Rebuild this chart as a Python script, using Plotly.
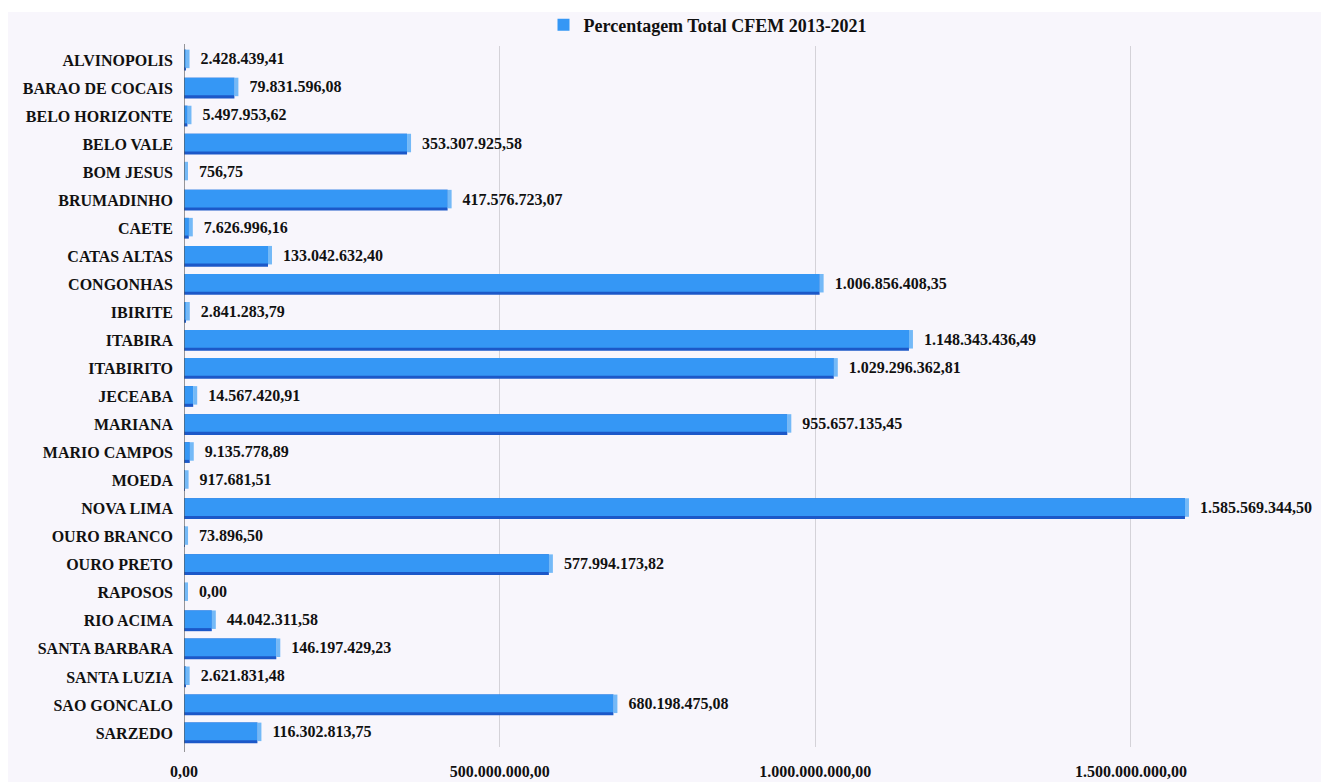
import plotly.graph_objects as go

# CFEM totals per municipality, 2013-2021 (R$)
municipios = [
    "ALVINOPOLIS", "BARAO DE COCAIS", "BELO HORIZONTE", "BELO VALE", "BOM JESUS",
    "BRUMADINHO", "CAETE", "CATAS ALTAS", "CONGONHAS", "IBIRITE", "ITABIRA",
    "ITABIRITO", "JECEABA", "MARIANA", "MARIO CAMPOS", "MOEDA", "NOVA LIMA",
    "OURO BRANCO", "OURO PRETO", "RAPOSOS", "RIO ACIMA", "SANTA BARBARA",
    "SANTA LUZIA", "SAO GONCALO", "SARZEDO",
]
total_cfem = [
    2428439.41, 79831596.08, 5497953.62, 353307925.58, 756.75,
    417576723.07, 7626996.16, 133042632.40, 1006856408.35, 2841283.79, 1148343436.49,
    1029296362.81, 14567420.91, 955657135.45, 9135778.89, 917681.51, 1585569344.50,
    73896.50, 577994173.82, 0.00, 44042311.58, 146197429.23,
    2621831.48, 680198475.08, 116302813.75,
]
x_ticks = [0, 500000000, 1000000000, 1500000000]
serie = "Percentagem Total CFEM 2013-2021"


def br(v):
    s = f"{v:,.2f}"
    return s.replace(",", "#").replace(".", ",").replace("#", ".")


labels = ["  " + br(v) for v in total_cfem]

W, H = 1321, 782
ML, MR, MT, MB = 184, 3, 46, 35
PW, PH = W - ML - MR, H - MT - MB
PX_PER_UNIT = 631.3 / 1e9
x_max = PW / PX_PER_UNIT
cap = 4 / PX_PER_UNIT  # depth of the 3D end face

serif = "Liberation Serif, Times New Roman, serif"
blue = "#3597f5"
dark = "#1c58c8"
light = "#74b9f7"

fig = go.Figure()
# shadowed underside of each bar
fig.add_trace(go.Bar(
    y=municipios, x=total_cfem, orientation="h",
    width=0.74, offset=-0.37, marker=dict(color=dark, line=dict(width=0)),
    showlegend=False, hoverinfo="skip",
))
# front face
fig.add_trace(go.Bar(
    y=municipios, x=total_cfem, orientation="h", name=serie,
    width=0.63, offset=-0.37, marker=dict(color=blue, line=dict(width=0)),
    hoverinfo="skip",
))
# end face plus value label
fig.add_trace(go.Bar(
    y=municipios, x=[cap] * len(total_cfem), base=total_cfem, orientation="h",
    width=0.66, offset=-0.37, marker=dict(color=light, line=dict(width=0)),
    text=labels, textposition="outside", cliponaxis=False,
    textfont=dict(family=serif, size=16, color="#111111", weight="bold"),
    showlegend=False, hoverinfo="skip",
))


def py(p):
    """paper y coordinate of a page pixel row"""
    return (PH + MT - p) / PH


fx1 = (W - ML) / PW
# page frame: white border with lavender panel
fig.add_shape(type="rect", xref="paper", yref="paper", layer="below",
              x0=(8 - ML) / PW, x1=fx1, y0=py(H), y1=py(12),
              fillcolor="#f8f6fc", line=dict(width=0))
# zero axis line
fig.add_shape(type="line", xref="x", yref="paper", layer="above",
              x0=0, x1=0, y0=py(752), y1=py(44),
              line=dict(color="#555555", width=1.2))

fig.update_layout(
    width=W, height=H,
    margin=dict(l=ML, r=MR, t=MT, b=MB),
    paper_bgcolor="white", plot_bgcolor="rgba(0,0,0,0)",
    barmode="overlay",
    separators=",.",
    font=dict(family=serif, color="#111111"),
    legend=dict(
        orientation="h", x=(708 - ML) / PW, xanchor="center",
        y=py(25), yanchor="middle", bgcolor="rgba(0,0,0,0)",
        font=dict(family=serif, size=18, color="#111111", weight="bold"),
    ),
    xaxis=dict(
        range=[0, x_max], tickvals=x_ticks, tickformat=",.2f",
        showgrid=True, gridcolor="#d4d2d8", gridwidth=1,
        zeroline=False, showline=False, ticks="",
        ticklabelstandoff=13,
        tickfont=dict(family=serif, size=16, color="#111111", weight="bold"),
    ),
    yaxis=dict(
        autorange="reversed", showgrid=False, zeroline=False, showline=False,
        ticks="", ticklabelstandoff=10,
        tickfont=dict(family=serif, size=16, color="#111111", weight="bold"),
    ),
)

fig.write_html("out.html")
